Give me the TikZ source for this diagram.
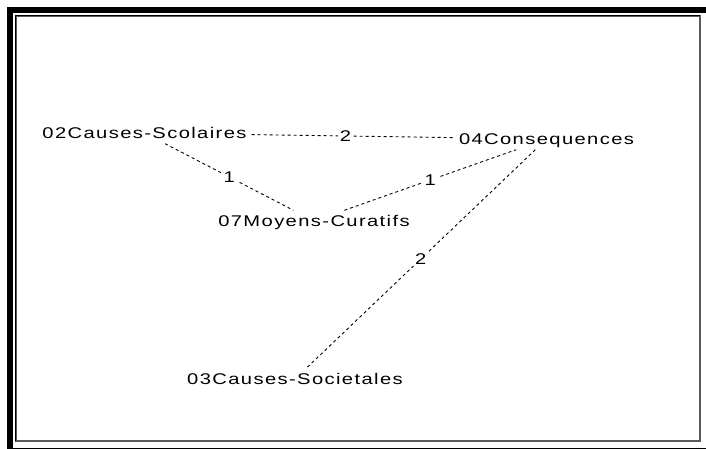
\documentclass[tikz,border=0pt]{standalone}
\usepackage{fontspec}
\newfontfamily\lblfont[FakeStretch=1.3,LetterSpace=9]{Liberation Sans}
\definecolor{framegray}{RGB}{90,90,90}
\begin{document}
\begin{tikzpicture}[x=1pt,y=-1pt,
  nd/.style={font=\lblfont\fontsize{15.5}{18}\selectfont, inner xsep=5pt, inner ysep=5pt, text height=11pt, text depth=0pt},
  lk/.style={draw=black, line width=0.9pt, dash pattern=on 3pt off 3pt},
  wt/.style={font=\lblfont\fontsize{15.5}{18}\selectfont, fill=white, inner xsep=2pt, inner ysep=1pt, text height=11pt, text depth=0pt}]
\useasboundingbox (0,0) rectangle (706,449);
\fill[white] (0,0) rectangle (706,449);
\fill[black] (7,7) rectangle (706,13);
\fill[black] (7,7) rectangle (13,449);
\fill[black] (7,447.5) rectangle (706,449);
\draw[line width=2pt, framegray] (16,16) rectangle (700,441);
\draw[line width=1pt, black] (15.5,441) -- (15.5,15.5) -- (700,15.5);

\node[nd] (sco) at (144.5,133) {02Causes-Scolaires};
\node[nd] (con) at (546.5,139) {04Consequences};
\node[nd] (moy) at (314,221) {07Moyens-Curatifs};
\node[nd] (soc) at (295,379) {03Causes-Societales};

\draw[lk] (sco) -- (con);
\draw[lk] (sco) -- (moy);
\draw[lk] (moy) -- (con);
\draw[lk] (con) -- (soc);

\path (sco.center) -- (con.center) node[midway, wt] (l1) {2};
\path (sco.center) -- (moy.center) node[midway, wt] (l2) {1};
\path (moy.center) -- (con.center) node[midway, wt] (l3) {1};
\path (con.center) -- (soc.center) node[midway, wt] (l4) {2};
\end{tikzpicture}
\end{document}
